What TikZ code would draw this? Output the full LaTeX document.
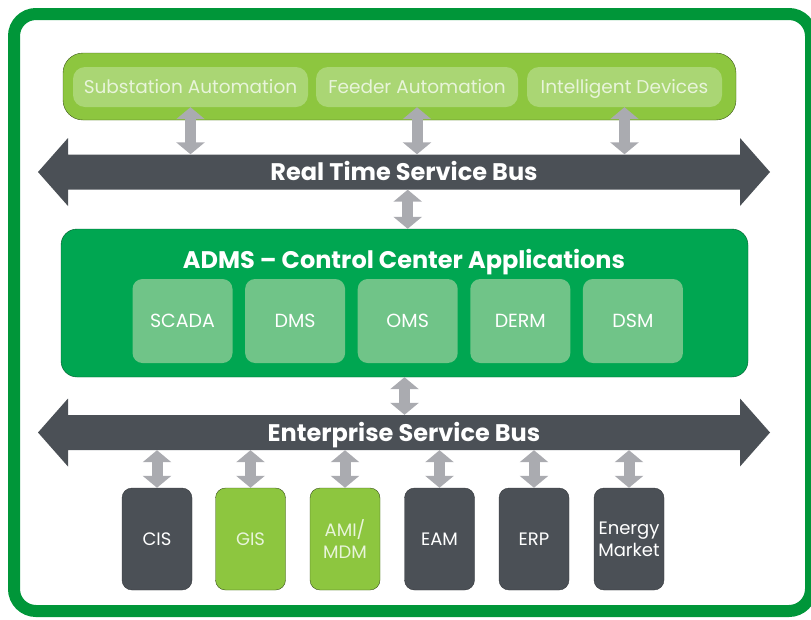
\documentclass[tikz,border=0pt]{standalone}
\usepackage{fontspec}
\setmainfont{Poppins}
\usetikzlibrary{arrows.meta}

\definecolor{frameGreen}{RGB}{0,150,57}
\definecolor{leafGreen}{RGB}{141,198,63}
\definecolor{pillGreen}{RGB}{170,214,116}
\definecolor{pillText}{RGB}{232,244,218}
\definecolor{admsGreen}{RGB}{0,166,81}
\definecolor{appGreen}{RGB}{112,196,136}
\definecolor{busGrey}{RGB}{75,80,86}
\definecolor{linkGrey}{RGB}{170,171,176}

\tikzset{
  pill/.style={rounded corners=12pt, fill=pillGreen, minimum height=40pt, text=pillText,
    text height=13pt, text depth=0pt, font=\fontsize{18.5}{20}\selectfont},
  app/.style={rounded corners=10pt, fill=appGreen, minimum width=100pt, minimum height=84pt,
    text=white, font=\fontsize{19}{22}\selectfont},
  sysbox/.style={rounded corners=10pt, minimum width=70pt, minimum height=102pt, align=center,
    font=\fontsize{18}{22}\selectfont},
  darksys/.style={sysbox, fill=busGrey, draw=busGrey!70!black, text=white},
  greensys/.style={sysbox, fill=leafGreen, draw=leafGreen!40!black, text=pillText},
  buslabel/.style={inner sep=0pt, minimum width=672pt, minimum height=35pt, text=white,
    text height=17pt, text depth=0pt, font=\fontsize{24}{28}\selectfont\bfseries},
  link/.style={draw=linkGrey, line width=11pt,
    {Triangle[width=28pt,length=12pt]}-{Triangle[width=28pt,length=12pt]}},
}

% fat two-headed bus with its label node
\def\servicebus(#1)(#2)#3{%
  \fill[busGrey] (38,#2) -- (68,#2-34) -- (68,#2-17.5) -- (740,#2-17.5) -- (740,#2-34)
    -- (770,#2) -- (740,#2+34) -- (740,#2+17.5) -- (68,#2+17.5) -- (68,#2+34) -- cycle;
  \node[buslabel] (#1) at (404,#2) {#3};}

\begin{document}
\begin{tikzpicture}[x=1pt, y=-1pt]
  %%%%% START %%%%%
  \useasboundingbox (0,0) rectangle (811,619);
  \draw[frameGreen, line width=12pt, rounded corners=22pt] (14,14) rectangle (811,611);

  % field layer
  \node[rounded corners=20pt, fill=leafGreen, draw=leafGreen!45!black, thin,
    minimum width=673pt, minimum height=67pt] (field) at (399.5,86.5) {};
  \node[pill, minimum width=235pt] (sub) at (190.5,87) {Substation Automation};
  \node[pill, minimum width=202pt] (feed) at (417,87) {Feeder Automation};
  \node[pill, minimum width=195pt] (ied) at (624.5,87) {Intelligent Devices};

  \servicebus(rtb)(172){Real Time Service Bus}

  % control center
  \node[rounded corners=16pt, fill=admsGreen, draw=admsGreen!55!black, thin,
    minimum width=687pt, minimum height=148pt] (adms) at (404.5,303) {};
  \node[text=white, text height=17pt, text depth=0pt, font=\fontsize{24}{28}\selectfont\bfseries]
    (title) at (404,260) {ADMS -- Control Center Applications};
  \foreach \n/\t [count=\i] in {scada/SCADA, dms/DMS, oms/OMS, derm/DERM, dsm/DSM}
    \node[app] (\n) at ({182.5+112.6*(\i-1)},321) {\t};

  \servicebus(esb)(432.5){Enterprise Service Bus}

  % enterprise systems
  \node[darksys] (cis) at (157,539) {CIS};
  \node[greensys] (gis) at (250.5,539) {GIS};
  \node[greensys] (ami) at (345,539) {AMI/\\MDM};
  \node[darksys] (eam) at (439.5,539) {EAM};
  \node[darksys] (erp) at (534,539) {ERP};
  \node[darksys] (mkt) at (629,539) {Energy\\Market};

  % links
  \foreach \n in {sub,feed,ied}
    \draw[link] (\n.south) -- (\n.south |- rtb.north);
  \draw[link] (oms |- rtb.south) -- (oms |- adms.north);
  \draw[link] (adms.south) -- (adms.south |- esb.north);
  \foreach \n in {cis,gis,ami,eam,erp,mkt}
    \draw[link] (\n |- esb.south) -- (\n.north);
  %%%%% END %%%%%
\end{tikzpicture}
\end{document}
